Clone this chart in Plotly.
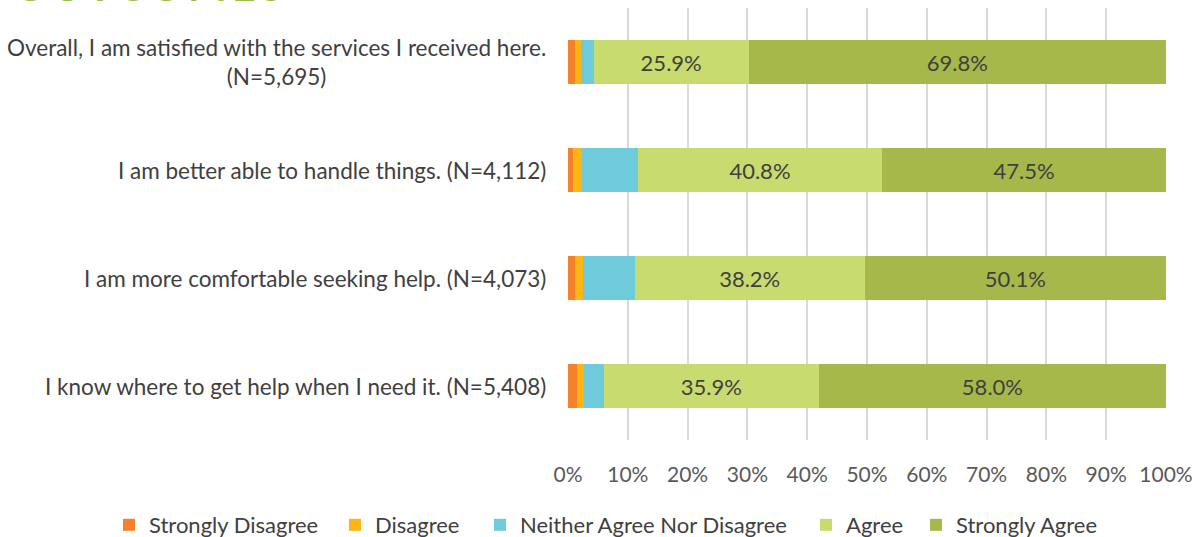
import plotly.graph_objects as go

questions = [
    "Overall, I am satisfied with the services I received here.<br>(N=5,695)",
    "I am better able to handle things. (N=4,112)",
    "I am more comfortable seeking help. (N=4,073)",
    "I know where to get help when I need it. (N=5,408)",
]
series_names = ["Strongly Disagree", "Disagree", "Neither Agree Nor Disagree", "Agree", "Strongly Agree"]
strongly_disagree = [1.2, 0.8, 1.1, 1.5]
disagree = [0.9, 1.6, 1.4, 1.2]
neither = [2.2, 9.3, 8.6, 3.3]
agree = [25.9, 40.8, 38.2, 35.9]
strongly_agree = [69.8, 47.5, 50.1, 58.0]
colors = ["#F5822A", "#FDB515", "#6ECBDB", "#C8DB6E", "#A7B84A"]
x_ticks = [0, 10, 20, 30, 40, 50, 60, 70, 80, 90, 100]

values = [strongly_disagree, disagree, neither, agree, strongly_agree]
keys = ["q%d" % i for i in range(len(questions))]
FONT = "Lato, Open Sans, sans-serif"
W, H = 1194, 537

# left edge (px) of each legend entry box
legend_left_px = [109, 335, 480, 806, 916]
legend_ids = ["legend", "legend2", "legend3", "legend4", "legend5"]

fig = go.Figure()
for i, (name, vals, col) in enumerate(zip(series_names, values, colors)):
    show_text = i >= 3
    fig.add_trace(go.Bar(
        y=keys, x=vals, name=name, orientation="h",
        marker=dict(color=col, line=dict(width=0)),
        text=[f"{v:.1f}%" for v in vals] if show_text else None,
        textposition="inside" if show_text else "none",
        insidetextanchor="middle",
        textfont=dict(family=FONT, size=22, color="#404040"),
        hoverinfo="x+name",
        legend=legend_ids[i],
    ))

for k, q in zip(keys, questions):
    fig.add_annotation(
        x=0, xref="paper", y=k, yref="y", text=q, showarrow=False,
        xanchor="right", xshift=-20, align="center",
        font=dict(family=FONT, size=22.5, color="#404040"),
    )

fig.add_annotation(
    x=0, xref="paper", y=1, yref="paper", xshift=-556, yshift=-4.5,
    text="<b>O\u2009U\u2009T\u2009C\u2009O\u2009M\u2009E\u2009S</b>",
    showarrow=False, xanchor="left", yanchor="bottom",
    font=dict(family=FONT, size=41, color="#9BBE46"),
)

legend_layout = {}
for lid, lx in zip(legend_ids, legend_left_px):
    legend_layout[lid] = dict(
        orientation="h", x=lx / W, xref="container", xanchor="left",
        y=(H - 525) / H, yref="container", yanchor="middle",
        font=dict(family=FONT, size=22, color="#404040"),
        bgcolor="rgba(0,0,0,0)",
    )

fig.update_layout(
    barmode="stack", barnorm="percent", bargap=0.59,
    width=W, height=H,
    margin=dict(l=568, r=28, t=8, b=97),
    paper_bgcolor="white", plot_bgcolor="white",
    font=dict(family=FONT, size=21, color="#595959"),
    xaxis=dict(
        range=[0, 100], tickvals=x_ticks, ticktext=[f"{t}%" for t in x_ticks],
        showgrid=True, gridcolor="#D9D9D9", gridwidth=2, zeroline=False,
        ticks="outside", ticklen=16, tickcolor="rgba(0,0,0,0)",
        tickfont=dict(family=FONT, size=21, color="#595959"), fixedrange=True,
        automargin=False,
    ),
    yaxis=dict(
        categoryorder="array", categoryarray=keys, autorange="reversed",
        showticklabels=False, showgrid=False, zeroline=False, fixedrange=True,
        automargin=False,
    ),
    showlegend=True,
    **legend_layout,
)

fig.write_html("out.html", config={"displayModeBar": False},
               post_script="document.body.style.margin='0';")
